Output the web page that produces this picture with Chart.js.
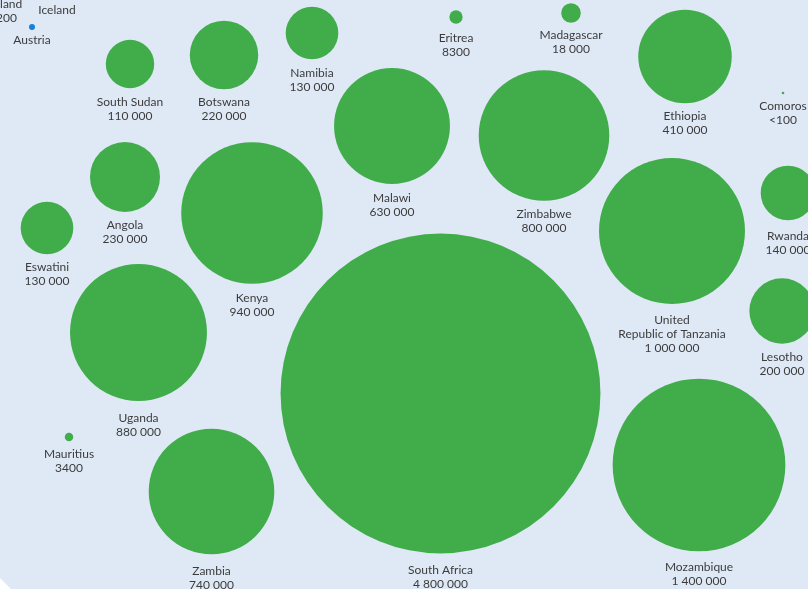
<!DOCTYPE html>
<html>
<head>
<meta charset="utf-8">
<script src="https://cdn.jsdelivr.net/npm/chart.js@4/dist/chart.umd.min.js"></script>
<style>
html,body{margin:0;padding:0;background:#dfe9f6;overflow:hidden;}
#wrap{width:808px;height:589px;}
</style>
</head>
<body>
<div id="wrap"><canvas id="c" width="808" height="589"></canvas></div>
<script>
// Green series (Eastern and southern Africa)
const countries = ["South Sudan","Botswana","Namibia","Eritrea","Madagascar","Ethiopia","Comoros",
  "Malawi","Zimbabwe","Angola","Eswatini","Kenya","United\nRepublic of Tanzania","Rwanda","Lesotho",
  "Uganda","South Africa","Mozambique","Zambia","Mauritius"];
const values = [110000,220000,130000,8300,18000,410000,100,
  630000,800000,230000,130000,940000,1000000,140000,200000,
  880000,4800000,1400000,740000,3400];
// bubble layout (packed positions, chart units)
const posX = [130,224,312,456,571,685,783,392,544,125,47,252,672,788,782,138.5,440.5,699,211.5,69];
const posY = [64,55,33,17,13,56.5,93,126,135.5,177,228,213,231,193,311,332.5,393.5,465,491.5,437];
const labelGap = [13.8,12.8,13.7,14.4,12.2,12.8,11.7,14.1,13.2,13,12.7,14.2,16,15.7,13.4,17,16.5,15.6,16.7,12.7];

// Blue series (neighbouring region, partly outside the view)
const euNames = ["Finland","Iceland","Austria"];
const euValues = [1200,null,null];
const euSize = [1700,200,1700];
const euX = [3,57,32];
const euY = [-11,-3,27];
const euGap = [12,12,10];

const K = 0.073;
const radiusOf = v => Math.max(1.3, K*Math.sqrt(v));
const fmt = v => v <= 100 ? "<100" : (v < 10000 ? String(v) : v.toLocaleString('en-US').replace(/,/g,' '));

const labelPlugin = {
  id:'labels',
  beforeDraw(chart){
    const c = chart.ctx;
    c.save(); c.fillStyle = '#dfe9f6'; c.fillRect(0,0,chart.width,chart.height); c.restore();
  },
  afterDatasetsDraw(chart){
    const c = chart.ctx;
    const xs = chart.scales.x, ys = chart.scales.y;
    c.save();
    c.font = '12px Lato, "Noto Sans", sans-serif';
    c.fillStyle = '#3c3c3c';
    c.textAlign = 'center';
    c.textBaseline = 'middle';
    const drawLabel = (name, valText, x, y, r, gap) => {
      const lines = name.split('\n');
      if (valText !== null) lines.push(valText);
      const px = xs.getPixelForValue(x), py = ys.getPixelForValue(y);
      const ty = py + r + gap;
      lines.forEach((l,i) => c.fillText(l, px, ty + i*14));
    };
    countries.forEach((n,i) => drawLabel(n, fmt(values[i]), posX[i], posY[i], radiusOf(values[i]), labelGap[i]));
    euNames.forEach((n,i) => drawLabel(n, euValues[i] === null ? null : String(euValues[i]), euX[i], euY[i], radiusOf(euSize[i]), euGap[i]));
    // white corner
    c.fillStyle = '#ffffff';
    c.beginPath(); c.moveTo(0,578); c.lineTo(11,589); c.lineTo(0,589); c.closePath(); c.fill();
    c.restore();
  }
};

new Chart(document.getElementById('c'), {
  type:'bubble',
  data:{
    datasets:[
      { data: countries.map((n,i)=>({x:posX[i], y:posY[i], v:values[i]})),
        backgroundColor:'#40ad4a', borderWidth:0, hoverBorderWidth:0, clip:false,
        radius: ctx => radiusOf(ctx.raw.v) },
      { data: euNames.map((n,i)=>({x:euX[i], y:euY[i], v:euSize[i]})),
        backgroundColor:'#1a7fd6', borderWidth:0, hoverBorderWidth:0, clip:false,
        radius: ctx => radiusOf(ctx.raw.v) }
    ]
  },
  options:{
    responsive:false, animation:false, events:[],
    layout:{padding:0, autoPadding:false},
    plugins:{legend:{display:false}, tooltip:{enabled:false}},
    scales:{
      x:{type:'linear', min:0, max:808, display:false},
      y:{type:'linear', min:0, max:589, reverse:true, display:false}
    }
  },
  plugins:[labelPlugin]
});
</script>
</body>
</html>
